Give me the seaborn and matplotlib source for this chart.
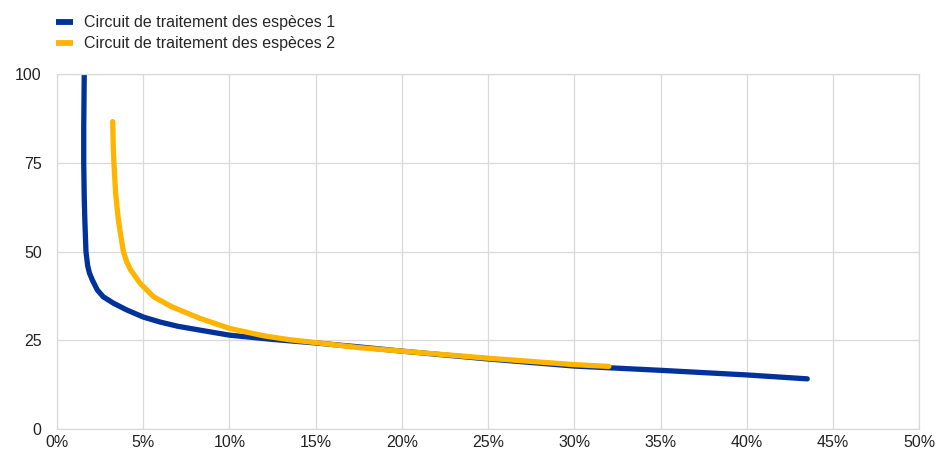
import matplotlib
matplotlib.use("Agg")
import matplotlib.pyplot as plt
from matplotlib.lines import Line2D
from matplotlib.ticker import FuncFormatter
import pandas as pd
import seaborn as sns

# Series 1: share (%) vs value
s1_x = [1.58, 1.55, 1.55, 1.58, 1.62, 1.68, 1.78, 1.88, 2.05, 2.34, 2.68, 3.27,
        4.04, 5.0, 5.97, 7.0, 8.3, 10.0, 12.5, 15.0, 17.5, 20.0, 25.0, 30.0,
        35.0, 40.0, 43.5]
s1_y = [100, 85, 75, 65, 58, 50, 46, 44, 42.0, 39.2, 37.3, 35.5,
        33.6, 31.6, 30.2, 29.0, 27.9, 26.5, 25.3, 24.3, 23.2, 22.0, 19.8, 17.8,
        16.6, 15.3, 14.2]

# Series 2
s2_x = [3.23, 3.26, 3.30, 3.40, 3.56, 3.65, 3.85, 4.05, 4.28, 4.82, 5.6, 6.65,
        8.3, 10.0, 12.0, 13.5, 15.0, 17.5, 20.0, 25.0, 30.0, 32.0]
s2_y = [86.6, 80, 75, 66.4, 58.9, 56.0, 50, 47, 44.8, 41.1, 37.3, 34.5,
        31.2, 28.4, 26.3, 25.2, 24.4, 23.0, 22.0, 20.0, 18.2, 17.7]

labels = ["Circuit de traitement des espèces 1", "Circuit de traitement des espèces 2"]
colors = ["#003299", "#FFB400"]

x_ticks = [0, 5, 10, 15, 20, 25, 30, 35, 40, 45, 50]
y_ticks = [0, 25, 50, 75, 100]

df = pd.concat([
    pd.DataFrame({"x": s1_x, "y": s1_y, "serie": labels[0]}),
    pd.DataFrame({"x": s2_x, "y": s2_y, "serie": labels[1]}),
], ignore_index=True)

sns.set_style("white")
plt.rcParams["font.family"] = ["Liberation Sans", "DejaVu Sans"]

fig = plt.figure(figsize=(9.36, 4.54), dpi=100)
ax = fig.add_axes([0.0609, 0.0544, 0.9213, 0.7826])

sns.lineplot(data=df, x="x", y="y", hue="serie", palette=colors, sort=False,
             estimator=None, units="serie", linewidth=3.8, legend=False, ax=ax,
             solid_capstyle="round", solid_joinstyle="round")

ax.set_xlim(0, 50)
ax.set_ylim(0, 100)
ax.set_xticks(x_ticks)
ax.set_yticks(y_ticks)
ax.xaxis.set_major_formatter(FuncFormatter(lambda v, p: f"{v:.0f}%"))
ax.set_xlabel("")
ax.set_ylabel("")
ax.grid(True, color="#d9d9d9", linewidth=0.9)
ax.set_axisbelow(True)
for sp in ax.spines.values():
    sp.set_color("#d9d9d9")
    sp.set_linewidth(0.9)
ax.tick_params(axis="both", length=0, labelsize=11.5, colors="#222222")
ax.tick_params(axis="x", pad=4)
ax.tick_params(axis="y", pad=11)

handles = [Line2D([0], [0], color=c, linewidth=4.2, solid_capstyle="butt") for c in colors]
fig.legend(handles, labels, loc="upper left", bbox_to_anchor=(0.0598, 0.966),
           frameon=False, fontsize=11.5, handlelength=1.05, handletextpad=0.68,
           labelspacing=0.36, borderaxespad=0, borderpad=0)

fig.savefig("out.png", dpi=100)
